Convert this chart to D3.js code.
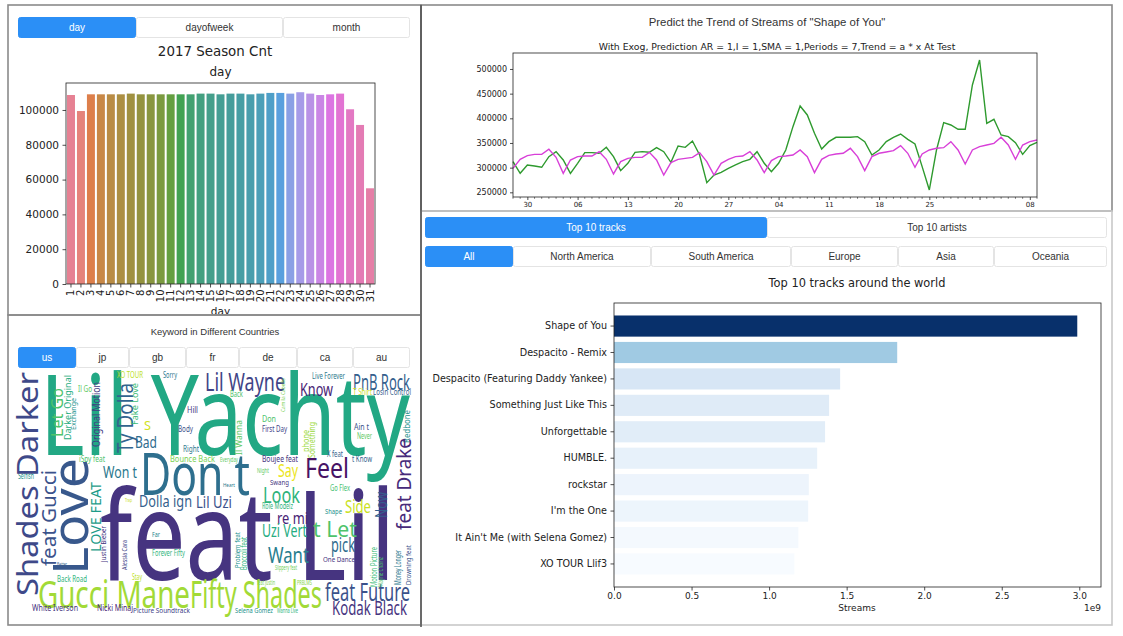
<!DOCTYPE html>
<html>
<head>
<meta charset="utf-8">
<title>Spotify 2017 dashboard</title>
<script src="https://cdn.jsdelivr.net/npm/d3@7/dist/d3.min.js"></script>
<style>
  html, body { margin:0; padding:0; background:#ffffff; }
  svg { display:block; }
</style>
</head>
<body>
<svg id="chart" width="1123" height="636"></svg>
<script>
// ================= DATA =================
const seasonTabs = ["day", "dayofweek", "month"];
const seasonDays = ["1","2","3","4","5","6","7","8","9","10","11","12","13","14","15","16",
                    "17","18","19","20","21","22","23","24","25","26","27","28","29","30","31"];
const seasonCounts = [108600, 99400, 109000, 109000, 109000, 109000, 109400, 109000, 109000, 109000,
                      109000, 109000, 109000, 109400, 109400, 109000, 109400, 109400, 109000, 109400,
                      109800, 109800, 109400, 110200, 109400, 108600, 109000, 109400, 100400, 91400, 55000];
const seasonYTicks = [0, 20000, 40000, 60000, 80000, 100000];

const trendStart = "2017-10-28";
const trendEnd = "2018-01-09";
const actualStreams = [
  312200, 288500, 305400, 303400, 300700, 322300, 332400, 315500, 288500, 308800,
  330400, 330400, 329100, 341200, 322300, 293900, 308800, 331100, 332400, 331100,
  340500, 332400, 310800, 343900, 341200, 354000, 325700, 269600, 285100, 290500,
  298600, 305400, 312200, 316900, 332400, 308800, 291900, 308800, 335800, 383100,
  425000, 406800, 369600, 337800, 352700, 361500, 361500, 361500, 362800, 352700,
  325700, 335800, 352700, 361500, 368200, 357400, 347900, 302000, 254700, 335800,
  391200, 386500, 377700, 377700, 467600, 518200, 389900, 398000, 366200, 362800,
  350700, 327000, 344600, 351300];
const predictedStreams = [
  298600, 316900, 324300, 327000, 327000, 337200, 320900, 288500, 315500, 322300,
  323600, 323600, 332400, 316900, 287200, 312200, 318900, 320900, 320900, 331100,
  315500, 285100, 310100, 316900, 318900, 320900, 330400, 312200, 285100, 308800,
  316900, 322300, 323600, 332400, 315500, 289900, 314200, 322300, 323600, 325700,
  335800, 322300, 289900, 316900, 325000, 327700, 329100, 339200, 322300, 293900,
  322300, 329100, 331700, 334500, 344600, 329100, 300700, 327700, 335800, 339200,
  340500, 352700, 335800, 307400, 335800, 342600, 345900, 349300, 361500, 345900,
  316900, 345900, 352700, 356100];
const trendYTicks = [250000, 300000, 350000, 400000, 450000, 500000];
const trendTickDates = ["2017-10-30","2017-11-06","2017-11-13","2017-11-20","2017-11-27",
                        "2017-12-04","2017-12-11","2017-12-18","2017-12-25","2018-01-01","2018-01-08"];
const trendTickLabels = ["30","06","13","20","27","04","11","18","25","","08"];

const trackTabs = ["Top 10 tracks", "Top 10 artists"];
const regionTabs = ["All", "North America", "South America", "Europe", "Asia", "Oceania"];
const trackNames = ["Shape of You", "Despacito - Remix", "Despacito (Featuring Daddy Yankee)",
                    "Something Just Like This", "Unforgettable", "HUMBLE.", "rockstar",
                    "I'm the One", "It Ain't Me (with Selena Gomez)", "XO TOUR Llif3"];
const trackStreams = [2.987e9, 1.826e9, 1.458e9, 1.387e9, 1.361e9, 1.310e9, 1.256e9, 1.252e9, 1.189e9, 1.163e9];
const streamTicks = [0, 0.5e9, 1.0e9, 1.5e9, 2.0e9, 2.5e9, 3.0e9];

const countryTabs = ["us", "jp", "gb", "fr", "de", "ca", "au"];
// [word, x, y, size, rotation, viridis t, length] in word-cloud space (400 x 250)
const cloudWords = [
  ["Lil Yachty", 30, 85, 112, 0, .60, 370],
  ["feat Lil", 90, 210, 125, 0, .15, 295],
  ["Don t", 130, 125, 58, 0, .36, 110],
  ["Gucci Mane", 28, 238, 38, 0, .86, 152],
  ["Fifty Shades", 180, 238, 38, 0, .86, 132],
  ["feat Future", 315, 231, 25, 0, .25, 85],
  ["Kodak Black", 322, 245, 20, 0, .15, 75],
  ["Lil Wayne", 195, 21, 25, 0, .20, 80],
  ["PnB Rock", 343, 20, 22, 0, .30, 57],
  ["Know", 290, 26, 18, 0, .10, 33],
  ["Feel", 295, 108, 27, 0, .05, 44],
  ["Say", 268, 107, 18, 0, .97, 20],
  ["Look", 253, 133, 21, 0, .65, 37],
  ["Side", 335, 143, 18, 0, .92, 26],
  ["re mi", 267, 154, 17, 0, .10, 31],
  ["Uzi Vert", 252, 167, 18, 0, .62, 45],
  ["t Let", 303, 167, 22, 0, .72, 44],
  ["pick", 321, 182, 19, 0, .35, 24],
  ["Want", 258, 193, 22, 0, .42, 41],
  ["Lil Uzi", 186, 138, 16, 0, .25, 36],
  ["Dolla ign", 129, 137, 16, 0, .30, 53],
  ["Won t", 93, 108, 16, 0, .40, 34],
  ["Bad", 125, 78, 16, 0, .35, 22],
  ["Bounce Back", 160, 92, 9, 0, .80, 45],
  ["Right", 173, 82, 8, 0, .40, 16],
  ["Body", 168, 62, 9, 0, .25, 15],
  ["Hill", 177, 43, 9, 0, .15, 11],
  ["S", 134, 60, 13, 0, .93, 7],
  ["XO TOUR", 107, 8, 8, 0, .90, 26],
  ["Sorry", 153, 8, 8, 0, .40, 14],
  ["iSpy feat", 69, 92, 9, 0, .72, 26],
  ["Il Go", 68, 22, 8, 0, .75, 14],
  ["Selfish", 8, 109, 8, 0, .50, 16],
  ["Better", 47, 196, 6, 0, .30, 10],
  ["Back Road", 47, 212, 8, 0, .65, 30],
  ["White Iverson", 22, 241, 8, 0, .15, 46],
  ["Nicki Minaj", 87, 241, 8, 0, .10, 36],
  ["Picture Soundtrack", 123, 243, 7, 0, .20, 57],
  ["Stay", 122, 210, 8, 0, .90, 10],
  ["Forever Fifty", 142, 186, 8, 0, .65, 33],
  ["Far", 142, 167, 7, 0, .45, 8],
  ["Trap", 115, 132, 5, 0, .92, 7],
  ["Live Forever", 302, 9, 8, 0, .40, 33],
  ["Back", 220, 27, 8, 0, .72, 13],
  ["T Shirt", 343, 25, 8, 0, .92, 19],
  ["Losin Control", 363, 25, 8, 0, .30, 38],
  ["Don", 252, 52, 9, 0, .72, 14],
  ["First Day", 252, 62, 9, 0, .20, 25],
  ["Ain t", 344, 60, 9, 0, .25, 15],
  ["Never", 347, 69, 8, 0, .75, 15],
  ["X feat", 317, 87, 8, 0, .30, 16],
  ["t Know", 342, 92, 9, 0, .30, 20],
  ["Boujee feat", 252, 92, 9, 0, .15, 36],
  ["Everyday", 210, 92, 7, 0, .75, 18],
  ["Night", 247, 103, 7, 0, .75, 12],
  ["Swang", 260, 115, 7, 0, .15, 19],
  ["Heart", 213, 117, 6, 0, .40, 12],
  ["Go Flex", 320, 121, 8, 0, .70, 20],
  ["Role Modelz", 252, 139, 8, 0, .65, 31],
  ["Shape", 315, 144, 7, 0, .50, 17],
  ["One Dance", 313, 192, 7, 0, .15, 32],
  ["Slippery feat", 265, 200, 7, 0, .78, 22],
  ["feat Justin", 247, 215, 7, 0, .80, 18],
  ["PRBLMS", 287, 215, 7, 0, .82, 15],
  ["Selena Gomez", 225, 243, 7, 0, .50, 38],
  ["Wanna Live", 267, 243, 7, 0, .65, 21],
  ["Shades Darker", 28, 226, 29, -90, .22, 224],
  ["feat Gucci", 46, 196, 20, -90, .25, 96],
  ["Love", 78, 205, 50, -90, .27, 117],
  ["LOVE FEAT", 91, 182, 14, -90, .55, 70],
  ["Justin Bieber", 96, 192, 7, -90, .15, 36],
  ["Alessia Cara", 117, 200, 7, -90, .20, 30],
  ["Ty Dolla", 123, 83, 22, -90, .32, 70],
  ["Let Go", 53, 67, 16, -90, .72, 49],
  ["Darker Original", 61, 70, 9, -90, .62, 65],
  ["Exchange", 66, 60, 7, -90, .50, 32],
  ["Original Motion", 90, 77, 10, -90, .17, 65],
  ["Fake Love", 128, 55, 9, -90, .68, 42],
  ["Il Wanna", 232, 85, 8, -90, .75, 35],
  ["Something", 305, 88, 8, -90, .85, 36],
  ["phone", 299, 82, 8, -90, .85, 22],
  ["Redbone", 400, 73, 8, -90, .50, 33],
  ["feat Drake", 401, 160, 19, -90, .12, 92],
  ["Now", 377, 148, 17, -90, .30, 26],
  ["Motion Picture", 367, 217, 9, -90, .68, 40],
  ["Wayne Chainz", 373, 217, 7, -90, .72, 30],
  ["Money Longer", 391, 215, 8, -90, .40, 35],
  ["Drowning feat", 401, 215, 7, -90, .25, 40],
  ["Problem feat", 230, 198, 7, -90, .50, 36],
  ["Broccoli feat", 237, 200, 8, -90, .65, 33],
  ["Camila Cabello", 275, 42, 6, -90, .80, 34]
];

// ================= HELPERS =================
const svg = d3.select("#chart");
const FONT_MPL = "'DejaVu Sans', sans-serif";
const FONT_UI = "'Liberation Sans', Arial, Helvetica, sans-serif";
const FONT_CLOUD = "'Noto Sans', 'Open Sans', sans-serif";
const BLUE = "#2b8ff6";

svg.append("rect").attr("width", 1123).attr("height", 636).attr("fill", "#fff");

function tabs(edges, y0, y1, labels, active, fs) {
  const g = svg.append("g");
  labels.forEach((lab, i) => {
    const a = edges[i], b = edges[i + 1];
    g.append("rect").attr("x", a + 0.5).attr("y", y0 + 0.5)
      .attr("width", b - a - 1).attr("height", y1 - y0 - 1).attr("rx", 2)
      .attr("fill", i === active ? BLUE : "#fff")
      .attr("stroke", i === active ? BLUE : "#e4e4e4");
    g.append("text").attr("x", (a + b) / 2).attr("y", (y0 + y1) / 2 + 3.6)
      .attr("text-anchor", "middle").attr("font-family", FONT_UI).attr("font-size", fs)
      .attr("fill", i === active ? "#fff" : "#333").text(lab);
  });
}

function styleAxis(g, fs) {
  g.select(".domain").remove();
  g.selectAll(".tick line").attr("stroke", "#222").attr("stroke-width", 0.8);
  g.selectAll(".tick text").attr("fill", "#222").attr("font-family", FONT_MPL).attr("font-size", fs);
}

// HUSL (seaborn husl_palette) -> rgb
const HM = [[3.240969941904521, -1.537383177570093, -0.498610760293],
            [-0.96924363628087, 1.87596750150772, 0.041555057407175],
            [0.055630079696993, -0.20397695888897, 1.056971514242878]];
const refU = 0.19783000664283, refV = 0.46831999493879, kappa = 903.2962962, eps = 0.0088564516;
function maxChroma(L, H) {
  const sub1 = Math.pow(L + 16, 3) / 1560896;
  const sub2 = sub1 > eps ? sub1 : L / kappa;
  const hr = H / 360 * Math.PI * 2;
  let min = Infinity;
  for (let c = 0; c < 3; c++) {
    const [m1, m2, m3] = HM[c];
    for (let t = 0; t < 2; t++) {
      const top1 = (284517 * m1 - 94839 * m3) * sub2;
      const top2 = (838422 * m3 + 769860 * m2 + 731718 * m1) * L * sub2 - 769860 * t * L;
      const bottom = (632260 * m3 - 126452 * m2) * sub2 + 126452 * t;
      const slope = top1 / bottom, inter = top2 / bottom;
      const len = inter / (Math.sin(hr) - slope * Math.cos(hr));
      if (len >= 0) min = Math.min(min, len);
    }
  }
  return min;
}
function husl(H, S, L) {
  const C = maxChroma(L, H) / 100 * S;
  const hr = H / 180 * Math.PI;
  const U = Math.cos(hr) * C, V = Math.sin(hr) * C;
  const Y = L <= 8 ? L / kappa : Math.pow((L + 16) / 116, 3);
  const vu = U / (13 * L) + refU, vv = V / (13 * L) + refV;
  const X = 0 - (9 * Y * vu) / ((vu - 4) * vv - vu * vv);
  const Z = (9 * Y - 15 * vv * Y - vv * X) / (3 * vv);
  const f = c => c <= 0.0031308 ? 12.92 * c : 1.055 * Math.pow(c, 1 / 2.4) - 0.055;
  const rgb = HM.map(r => Math.max(0, Math.min(1, f(r[0] * X + r[1] * Y + r[2] * Z))));
  return d3.rgb(rgb[0] * 255, rgb[1] * 255, rgb[2] * 255);
}
const nDays = seasonDays.length;
const seasonColors = seasonDays.map((d, i) => {
  const h = ((i / nDays + 0.01) % 1) * 359;
  const c = d3.hsl(husl(h, 0.9 * 99, 0.65 * 99));
  c.s *= 0.75;
  return c.formatHex();
});

// ================= TOP-LEFT : 2017 Season Cnt =================
svg.append("clipPath").attr("id", "clipTL").append("rect")
  .attr("x", 8).attr("y", 5).attr("width", 413).attr("height", 309.5);
const gTL = svg.append("g").attr("clip-path", "url(#clipTL)");
tabs([18, 136, 283, 410], 17, 38, seasonTabs, 0, 10);

gTL.append("text").attr("x", 215).attr("y", 56).attr("text-anchor", "middle")
  .attr("font-family", FONT_MPL).attr("font-size", 13.4).attr("fill", "#222").text("2017 Season Cnt");
gTL.append("text").attr("x", 220.5).attr("y", 76).attr("text-anchor", "middle")
  .attr("font-family", FONT_MPL).attr("font-size", 12).attr("fill", "#222").text("day");

const sx = d3.scaleBand().domain(seasonDays).range([66, 375]).paddingInner(0.2).paddingOuter(0.1);
const sy = d3.scaleLinear().domain([0, 115500]).range([284, 83]);
gTL.selectAll("rect.sbar").data(seasonCounts).join("rect").attr("class", "sbar")
  .attr("x", (d, i) => sx(seasonDays[i])).attr("width", sx.bandwidth())
  .attr("y", d => sy(d)).attr("height", d => sy(0) - sy(d))
  .attr("fill", (d, i) => seasonColors[i]);
gTL.append("rect").attr("x", 66).attr("y", 83).attr("width", 309).attr("height", 201)
  .attr("fill", "none").attr("stroke", "#222").attr("stroke-width", 0.8);
const syAx = gTL.append("g").attr("transform", "translate(66,0)")
  .call(d3.axisLeft(sy).tickValues(seasonYTicks).tickSize(3.5).tickPadding(3.5).tickFormat(d3.format("d")));
styleAxis(syAx, 10.5);
const sxAx = gTL.append("g").attr("transform", "translate(0,284)")
  .call(d3.axisBottom(sx).tickSize(3.5));
styleAxis(sxAx, 10);
sxAx.selectAll(".tick text").attr("transform", "rotate(-90)").attr("x", -5.5).attr("y", 0)
  .attr("dy", "0.35em").attr("text-anchor", "end");
gTL.append("text").attr("x", 220.5).attr("y", 314.5).attr("text-anchor", "middle")
  .attr("font-family", FONT_MPL).attr("font-size", 10.5).attr("fill", "#222").text("day");

// ================= TOP-RIGHT : trend =================
const gTR = svg.append("g");
gTR.append("text").attr("x", 767).attr("y", 26).attr("text-anchor", "middle")
  .attr("font-family", FONT_UI).attr("font-size", 11.4).attr("fill", "#333")
  .text('Predict the Trend of Streams of "Shape of You"');
gTR.append("text").attr("x", 777).attr("y", 49.5).attr("text-anchor", "middle")
  .attr("font-family", FONT_MPL).attr("font-size", 9.3).attr("fill", "#222")
  .text("With Exog, Prediction AR = 1,I = 1,SMA = 1,Periods = 7,Trend = a * x At Test");

const parseD = d3.timeParse("%Y-%m-%d");
const trendDates = d3.timeDay.range(parseD(trendStart), d3.timeDay.offset(parseD(trendEnd), 1));
const tx = d3.scaleTime().domain([parseD(trendStart), parseD(trendEnd)]).range([513, 1037]);
const ty = d3.scaleLinear().domain([240500, 532400]).range([197, 53]);

const line = d3.line().x((d, i) => tx(trendDates[i])).y(d => ty(d));
gTR.append("path").datum(actualStreams).attr("d", line).attr("fill", "none")
  .attr("stroke", "#2e9a2e").attr("stroke-width", 1.4);
gTR.append("path").datum(predictedStreams).attr("d", line).attr("fill", "none")
  .attr("stroke", "#d83fd8").attr("stroke-width", 1.4);
gTR.append("rect").attr("x", 513).attr("y", 53).attr("width", 524).attr("height", 144)
  .attr("fill", "none").attr("stroke", "#222").attr("stroke-width", 0.8);
const tyAx = gTR.append("g").attr("transform", "translate(513,0)")
  .call(d3.axisLeft(ty).tickValues(trendYTicks).tickSize(3).tickPadding(3).tickFormat(d3.format("d")));
styleAxis(tyAx, 8);
const tickD = trendTickDates.map(parseD);
const txAx = gTR.append("g").attr("transform", "translate(0,197)")
  .call(d3.axisBottom(tx).tickValues(tickD).tickSize(3).tickPadding(2)
    .tickFormat((d, i) => trendTickLabels[i]));
styleAxis(txAx, 7);
const minorD = trendDates.filter(d => d.getDay() !== 1);
gTR.append("g").selectAll("line").data(minorD).join("line")
  .attr("x1", d => tx(d)).attr("x2", d => tx(d)).attr("y1", 197).attr("y2", 198.8)
  .attr("stroke", "#222").attr("stroke-width", 0.6);

// ================= BOTTOM-RIGHT : top tracks =================
tabs([425, 767, 1107], 217, 238, trackTabs, 0, 10);
tabs([425, 513, 651, 791, 898, 994, 1107], 246, 267, regionTabs, 0, 10);
const gBR = svg.append("g");
gBR.append("text").attr("x", 857).attr("y", 286.5).attr("text-anchor", "middle")
  .attr("font-family", FONT_MPL).attr("font-size", 11.4).attr("fill", "#222")
  .text("Top 10 tracks around the world");
const bx = d3.scaleLinear().domain([0, 3.14e9]).range([614, 1101]);
const by = d3.scaleBand().domain(trackNames).range([303, 587]).paddingInner(0.2).paddingOuter(0.4725);
const sMin = d3.min(trackStreams), sMax = d3.max(trackStreams);
gBR.selectAll("rect.tbar").data(trackStreams).join("rect").attr("class", "tbar")
  .attr("x", bx(0)).attr("y", (d, i) => by(trackNames[i]))
  .attr("width", d => bx(d) - bx(0)).attr("height", by.bandwidth())
  .attr("fill", d => d3.interpolateBlues((d - sMin) / (sMax - sMin)));
gBR.append("rect").attr("x", 614).attr("y", 303).attr("width", 487).attr("height", 284)
  .attr("fill", "none").attr("stroke", "#222").attr("stroke-width", 0.8);
const byAx = gBR.append("g").attr("transform", "translate(614,0)")
  .call(d3.axisLeft(by).tickSize(3.5).tickPadding(3.5));
styleAxis(byAx, 9.6);
const bxAx = gBR.append("g").attr("transform", "translate(0,587)")
  .call(d3.axisBottom(bx).tickValues(streamTicks).tickSize(3.5).tickPadding(2.5)
    .tickFormat(d => (d / 1e9).toFixed(1)));
styleAxis(bxAx, 9);
gBR.append("text").attr("x", 857).attr("y", 611).attr("text-anchor", "middle")
  .attr("font-family", FONT_MPL).attr("font-size", 9).attr("fill", "#222").text("Streams");
gBR.append("text").attr("x", 1101).attr("y", 611).attr("text-anchor", "end")
  .attr("font-family", FONT_MPL).attr("font-size", 9).attr("fill", "#222").text("1e9");

// ================= BOTTOM-LEFT : word cloud =================
svg.append("text").attr("x", 215).attr("y", 334.5).attr("text-anchor", "middle")
  .attr("font-family", FONT_UI).attr("font-size", 9.5).attr("fill", "#333")
  .text("Keyword in Different Countries");
tabs([18, 76, 129, 186, 239, 297, 353, 410], 347, 368, countryTabs, 0, 10);

svg.append("clipPath").attr("id", "clipWC").append("rect")
  .attr("x", 10).attr("y", 369).attr("width", 405).attr("height", 252);
const cx = d3.scaleLinear().domain([0, 400]).range([10, 410]);
const cy = d3.scaleLinear().domain([0, 250]).range([370, 620]);
const gWC = svg.append("g").attr("clip-path", "url(#clipWC)");
gWC.selectAll("text").data(cloudWords).join("text")
  .attr("transform", d => `translate(${cx(d[1])},${cy(d[2])}) rotate(${d[4]})`)
  .attr("font-family", FONT_CLOUD).attr("font-size", d => d[3])
  .attr("textLength", d => d[6]).attr("lengthAdjust", "spacingAndGlyphs")
  .attr("fill", d => d3.interpolateViridis(d[5]))
  .text(d => d[0]);

// ================= FRAMES (on top) =================
const fr = svg.append("g").attr("fill", "none").attr("stroke", "#8a8a8a").attr("stroke-width", 1.6);
fr.append("rect").attr("x", 8).attr("y", 5).attr("width", 413).attr("height", 310);
fr.append("rect").attr("x", 8).attr("y", 315).attr("width", 413).attr("height", 310);
fr.append("rect").attr("x", 421).attr("y", 5).attr("width", 691).attr("height", 206);
fr.append("rect").attr("x", 421).attr("y", 211).attr("width", 691).attr("height", 414).attr("stroke", "#c8c8c8");
svg.append("line").attr("x1", 421).attr("x2", 421).attr("y1", 5).attr("y2", 627)
  .attr("stroke", "#555").attr("stroke-width", 1.6);
</script>
</body>
</html>
